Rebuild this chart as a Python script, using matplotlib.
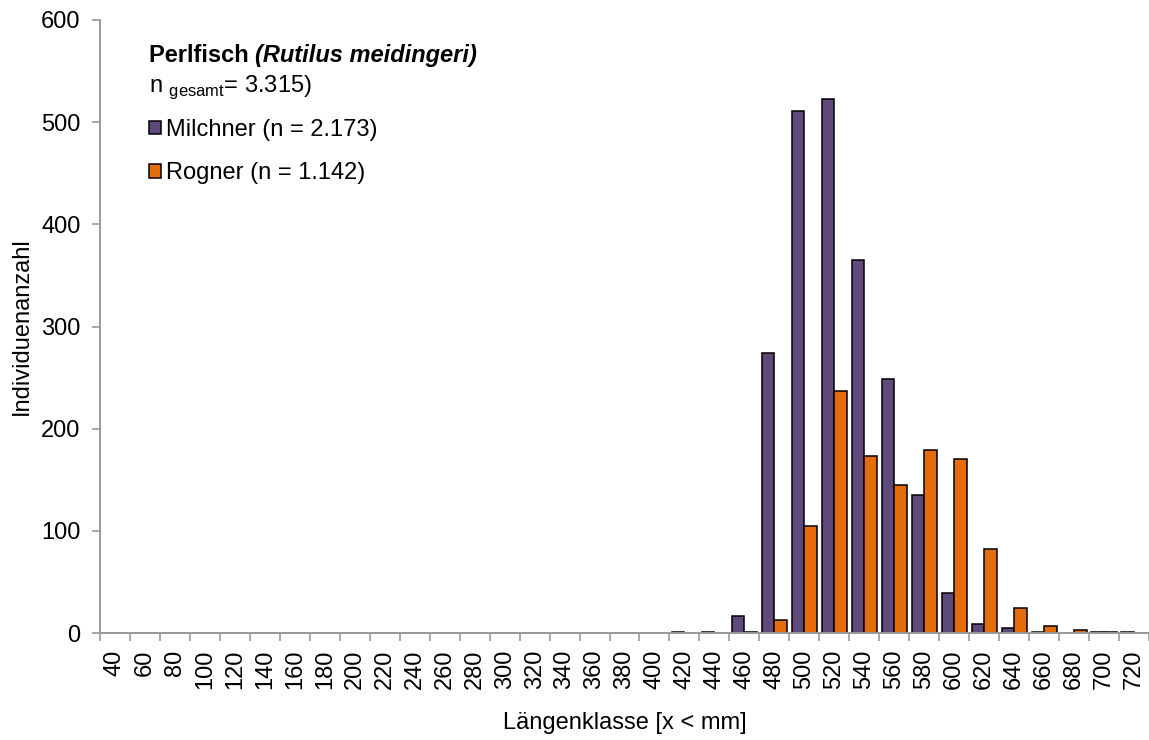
import numpy as np
import matplotlib
matplotlib.use("Agg")
import matplotlib.pyplot as plt
from matplotlib.patches import Patch

plt.rcParams['font.family'] = ['Liberation Sans', 'DejaVu Sans']
plt.rcParams['mathtext.fontset'] = 'custom'
plt.rcParams['mathtext.rm'] = 'Liberation Sans'

# length classes (x < mm)
classes = list(range(40, 721, 20))

# counts, per length class
milchner = [0, 0, 0, 0, 0, 0, 0, 0, 0, 0, 0, 0, 0, 0, 0, 0, 0, 0, 0,
            1, 1, 17, 274, 511, 523, 365, 249, 135, 39, 9, 5, 1, 0, 1, 1]
rogner = [0, 0, 0, 0, 0, 0, 0, 0, 0, 0, 0, 0, 0, 0, 0, 0, 0, 0, 0,
          0, 0, 1, 13, 105, 237, 173, 145, 179, 170, 82, 24, 7, 3, 1, 0]

purple = '#604A7B'
orange = '#E46C0A'
axis_grey = '#999999'
fs = 17

fig = plt.figure(figsize=(11.49, 7.40), dpi=100)
W, H = 1149, 740
ax = fig.add_axes([100 / W, (H - 633) / H, 1049 / W, 613 / H])

x = np.arange(len(classes))
bw = 0.42
ax.bar(x - bw / 2, milchner, width=bw, color=purple, edgecolor='black', linewidth=1.1)
ax.bar(x + bw / 2, rogner, width=bw, color=orange, edgecolor='black', linewidth=1.1)

ax.set_xlim(-0.5, len(classes) - 0.5)
ax.set_ylim(0, 600)
ax.set_yticks(range(0, 601, 100))

ax.set_xticks(x)
ax.set_xticklabels([str(c) for c in classes], rotation=90, fontsize=fs)
ax.set_xticks(np.arange(-0.5, len(classes), 1.0), minor=True)
ax.tick_params(axis='x', which='major', length=0, pad=12)
ax.tick_params(axis='x', which='minor', length=6, width=1.2, color=axis_grey, direction='out')
ax.tick_params(axis='y', length=6, width=1.2, color=axis_grey, labelsize=fs, pad=8)

for side in ['top', 'right']:
    ax.spines[side].set_visible(False)
for side in ['left', 'bottom']:
    ax.spines[side].set_color(axis_grey)
    ax.spines[side].set_linewidth(1.4)

ax.set_ylabel('Individuenanzahl', fontsize=fs, labelpad=6)
ax.set_xlabel('Längenklasse [x < mm]', fontsize=fs, labelpad=16)

# title block: bold name followed by bold italic latin name
t1 = fig.text(149 / W, 1 - 62 / H, 'Perlfisch ', fontsize=fs, fontweight='bold', va='baseline')
ax.annotate('(Rutilus meidingeri)', xy=(1, 0), xycoords=t1, fontsize=fs,
            fontweight='bold', style='italic', va='bottom', ha='left')
fig.text(149 / W, 1 - 92 / H, r'n $_{\mathrm{gesamt}}$= 3.315)', fontsize=fs, va='baseline')

handles = [Patch(facecolor=purple, edgecolor='black', linewidth=1.1),
           Patch(facecolor=orange, edgecolor='black', linewidth=1.1)]
fig.legend(handles, ['Milchner (n = 2.173)', 'Rogner (n = 1.142)'],
           loc='upper left', bbox_to_anchor=(149 / W, 1 - 119 / H), frameon=False,
           fontsize=fs, handlelength=0.5, handleheight=0.5, handletextpad=0.2,
           labelspacing=0.9, borderaxespad=0, borderpad=0)

fig.savefig('out.png', dpi=100)
